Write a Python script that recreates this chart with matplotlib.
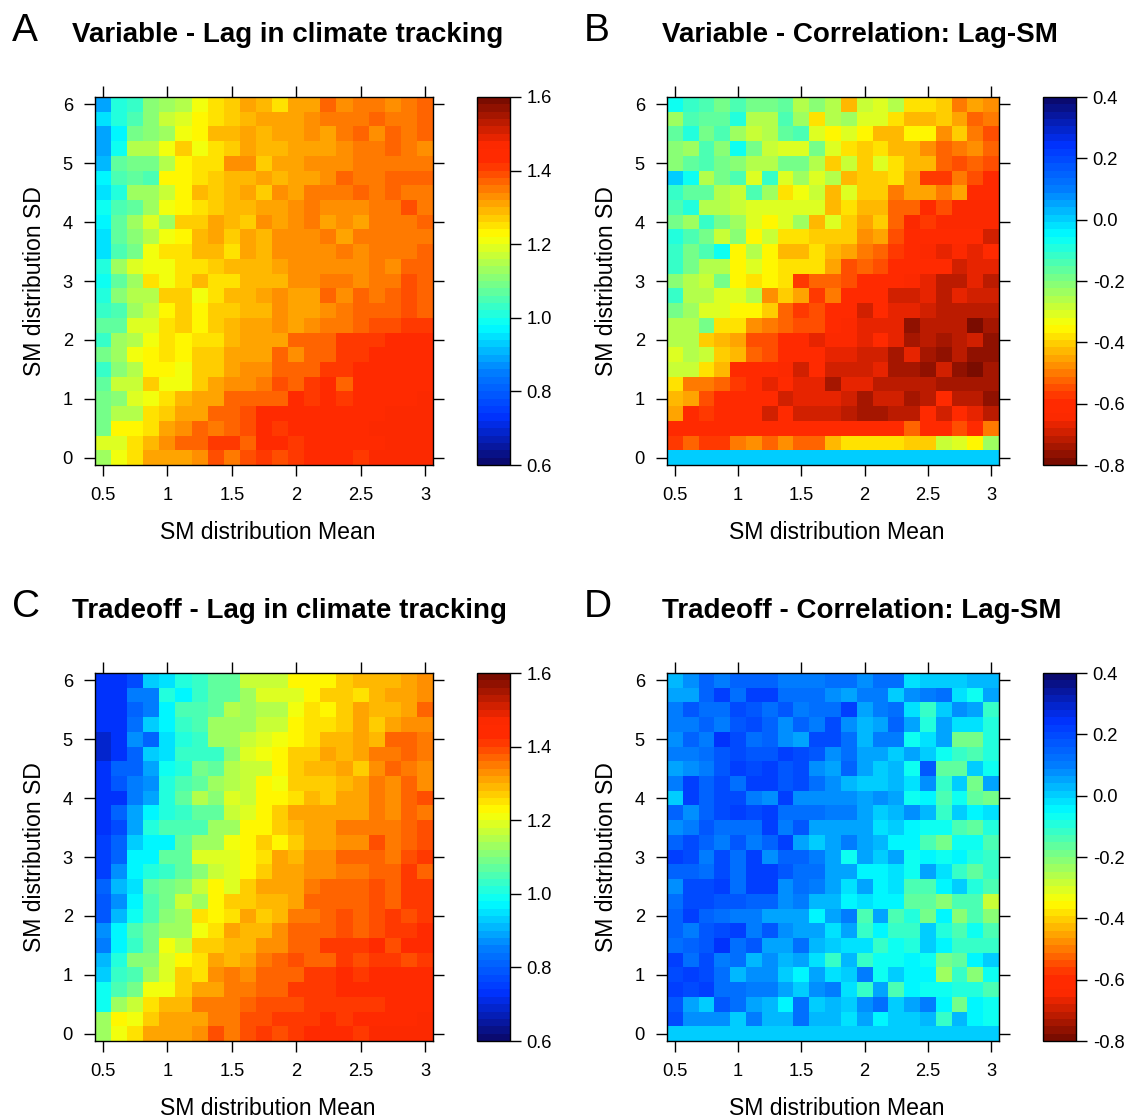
import numpy as np
import matplotlib
matplotlib.use('Agg')
import matplotlib.pyplot as plt
from matplotlib.colors import LinearSegmentedColormap, Normalize

plt.rcParams['font.family'] = ['Liberation Sans', 'DejaVu Sans']

# SM distribution axes
sm_mean = [0.5, 0.625, 0.75, 0.875, 1.0, 1.125, 1.25, 1.375, 1.5, 1.625, 1.75, 1.875, 2.0, 2.125, 2.25, 2.375, 2.5, 2.625, 2.75, 2.875, 3.0]
sm_sd = [6.0, 5.75, 5.5, 5.25, 5.0, 4.75, 4.5, 4.25, 4.0, 3.75, 3.5, 3.25, 3.0, 2.75, 2.5, 2.25, 2.0, 1.75, 1.5, 1.25, 1.0, 0.75, 0.5, 0.25, 0.0]

# rows go from SD=6 (top) to SD=0 (bottom)
lag_variable = [
    [0.89,1.01,1.03,1.11,1.14,1.16,1.20,1.25,1.27,1.30,1.28,1.25,1.31,1.30,1.37,1.33,1.35,1.35,1.32,1.34,1.37],
    [0.95,1.01,1.04,1.11,1.17,1.19,1.225,1.25,1.27,1.29,1.31,1.31,1.31,1.33,1.35,1.35,1.35,1.37,1.34,1.34,1.37],
    [0.89,0.96,1.08,1.11,1.14,1.20,1.225,1.28,1.28,1.30,1.28,1.31,1.31,1.33,1.30,1.35,1.37,1.33,1.37,1.34,1.37],
    [0.89,0.99,1.15,1.15,1.20,1.26,1.20,1.25,1.27,1.30,1.28,1.28,1.31,1.31,1.31,1.33,1.35,1.35,1.37,1.35,1.33],
    [0.90,1.06,1.08,1.08,1.16,1.225,1.25,1.25,1.33,1.33,1.27,1.31,1.31,1.33,1.33,1.33,1.35,1.35,1.35,1.35,1.35],
    [0.975,1.04,1.07,1.05,1.225,1.225,1.25,1.27,1.29,1.29,1.31,1.28,1.31,1.31,1.33,1.37,1.35,1.35,1.37,1.37,1.37],
    [0.95,1.00,1.12,1.12,1.17,1.225,1.29,1.27,1.29,1.31,1.26,1.32,1.31,1.35,1.35,1.35,1.37,1.35,1.37,1.35,1.35],
    [0.99,1.04,1.06,1.13,1.20,1.225,1.25,1.27,1.29,1.29,1.31,1.31,1.33,1.35,1.32,1.32,1.32,1.35,1.35,1.39,1.35],
    [0.975,1.06,1.14,1.19,1.13,1.26,1.26,1.30,1.29,1.26,1.32,1.31,1.33,1.35,1.30,1.32,1.30,1.35,1.35,1.35,1.37],
    [0.95,1.07,1.10,1.16,1.20,1.225,1.29,1.31,1.27,1.30,1.28,1.33,1.33,1.33,1.35,1.31,1.35,1.35,1.35,1.35,1.35],
    [0.95,1.04,1.09,1.20,1.25,1.25,1.29,1.29,1.24,1.30,1.28,1.33,1.33,1.33,1.33,1.35,1.33,1.35,1.35,1.35,1.37],
    [1.01,1.12,1.19,1.20,1.20,1.24,1.24,1.27,1.29,1.29,1.29,1.31,1.33,1.33,1.33,1.33,1.33,1.35,1.33,1.38,1.38],
    [0.99,1.06,1.14,1.25,1.20,1.25,1.29,1.24,1.24,1.28,1.28,1.28,1.33,1.33,1.35,1.35,1.33,1.35,1.35,1.39,1.37],
    [1.01,1.11,1.16,1.16,1.26,1.26,1.20,1.25,1.29,1.29,1.31,1.33,1.31,1.31,1.37,1.32,1.37,1.35,1.37,1.39,1.37],
    [1.03,1.05,1.13,1.18,1.225,1.27,1.225,1.27,1.27,1.28,1.28,1.33,1.31,1.31,1.32,1.35,1.37,1.37,1.37,1.39,1.37],
    [1.06,1.06,1.19,1.19,1.25,1.27,1.225,1.27,1.29,1.30,1.30,1.33,1.31,1.33,1.35,1.35,1.38,1.39,1.39,1.41,1.41],
    [1.03,1.14,1.16,1.20,1.25,1.225,1.24,1.24,1.28,1.30,1.30,1.30,1.36,1.36,1.36,1.41,1.41,1.41,1.42,1.42,1.45],
    [1.08,1.12,1.20,1.225,1.25,1.225,1.27,1.27,1.30,1.30,1.30,1.36,1.33,1.38,1.38,1.41,1.41,1.42,1.45,1.42,1.45],
    [1.03,1.11,1.16,1.225,1.225,1.20,1.27,1.27,1.30,1.32,1.32,1.38,1.38,1.38,1.40,1.40,1.42,1.42,1.45,1.45,1.45],
    [1.07,1.18,1.17,1.27,1.20,1.20,1.27,1.30,1.32,1.32,1.35,1.39,1.38,1.40,1.42,1.38,1.42,1.45,1.45,1.45,1.45],
    [1.09,1.11,1.19,1.20,1.25,1.29,1.30,1.30,1.36,1.37,1.37,1.37,1.45,1.41,1.45,1.41,1.45,1.45,1.45,1.45,1.46],
    [1.09,1.15,1.15,1.25,1.27,1.31,1.31,1.38,1.38,1.39,1.42,1.45,1.45,1.45,1.45,1.45,1.45,1.45,1.46,1.46,1.46],
    [1.09,1.225,1.225,1.25,1.30,1.33,1.37,1.35,1.38,1.39,1.45,1.40,1.45,1.42,1.45,1.45,1.45,1.46,1.46,1.46,1.46],
    [1.19,1.19,1.25,1.29,1.33,1.36,1.36,1.40,1.40,1.38,1.42,1.42,1.40,1.45,1.45,1.42,1.45,1.45,1.46,1.46,1.46],
    [1.13,1.20,1.25,1.30,1.30,1.30,1.32,1.39,1.35,1.39,1.41,1.39,1.41,1.45,1.42,1.45,1.41,1.46,1.46,1.46,1.46],
]

cor_variable = [
    [-0.08,-0.12,-0.15,-0.18,-0.13,-0.19,-0.19,-0.17,-0.27,-0.22,-0.27,-0.42,-0.28,-0.30,-0.27,-0.38,-0.38,-0.40,-0.50,-0.45,-0.47],
    [-0.24,-0.14,-0.16,-0.16,-0.10,-0.25,-0.25,-0.15,-0.24,-0.37,-0.27,-0.24,-0.32,-0.32,-0.38,-0.43,-0.43,-0.40,-0.45,-0.53,-0.50],
    [-0.17,-0.09,-0.19,-0.15,-0.24,-0.28,-0.25,-0.16,-0.14,-0.30,-0.35,-0.32,-0.35,-0.42,-0.42,-0.35,-0.35,-0.48,-0.40,-0.50,-0.55],
    [-0.21,-0.24,-0.15,-0.21,-0.08,-0.20,-0.28,-0.30,-0.30,-0.18,-0.32,-0.38,-0.40,-0.38,-0.44,-0.42,-0.47,-0.52,-0.50,-0.47,-0.53],
    [-0.21,-0.17,-0.13,-0.19,-0.21,-0.26,-0.26,-0.20,-0.20,-0.27,-0.41,-0.29,-0.40,-0.32,-0.37,-0.44,-0.44,-0.52,-0.55,-0.52,-0.55],
    [0.00,-0.06,-0.26,-0.18,-0.15,-0.31,-0.12,-0.31,-0.24,-0.30,-0.27,-0.42,-0.40,-0.41,-0.38,-0.46,-0.57,-0.57,-0.50,-0.55,-0.59],
    [-0.12,-0.16,-0.16,-0.25,-0.28,-0.14,-0.24,-0.39,-0.33,-0.28,-0.44,-0.32,-0.41,-0.41,-0.50,-0.46,-0.46,-0.50,-0.46,-0.63,-0.63],
    [-0.15,-0.10,-0.26,-0.26,-0.28,-0.30,-0.30,-0.30,-0.32,-0.32,-0.42,-0.37,-0.43,-0.43,-0.53,-0.53,-0.60,-0.55,-0.64,-0.64,-0.64],
    [-0.20,-0.23,-0.12,-0.19,-0.24,-0.32,-0.35,-0.32,-0.24,-0.43,-0.32,-0.40,-0.46,-0.41,-0.53,-0.64,-0.56,-0.64,-0.64,-0.64,-0.64],
    [-0.10,-0.15,-0.19,-0.28,-0.21,-0.35,-0.28,-0.38,-0.38,-0.40,-0.41,-0.41,-0.48,-0.46,-0.55,-0.62,-0.62,-0.63,-0.63,-0.63,-0.69],
    [-0.11,-0.19,-0.14,-0.08,-0.35,-0.27,-0.35,-0.42,-0.44,-0.37,-0.42,-0.46,-0.50,-0.53,-0.58,-0.62,-0.64,-0.67,-0.64,-0.67,-0.63],
    [-0.12,-0.18,-0.25,-0.25,-0.35,-0.31,-0.35,-0.37,-0.37,-0.37,-0.46,-0.54,-0.52,-0.55,-0.63,-0.63,-0.63,-0.63,-0.70,-0.67,-0.67],
    [-0.22,-0.26,-0.28,-0.19,-0.35,-0.39,-0.35,-0.37,-0.58,-0.52,-0.52,-0.55,-0.62,-0.62,-0.62,-0.64,-0.67,-0.72,-0.72,-0.67,-0.72],
    [-0.12,-0.25,-0.25,-0.32,-0.32,-0.27,-0.47,-0.41,-0.45,-0.58,-0.50,-0.62,-0.62,-0.62,-0.70,-0.70,-0.67,-0.71,-0.67,-0.70,-0.70],
    [-0.20,-0.24,-0.30,-0.32,-0.35,-0.35,-0.41,-0.52,-0.57,-0.55,-0.63,-0.63,-0.70,-0.63,-0.67,-0.67,-0.70,-0.72,-0.72,-0.72,-0.72],
    [-0.25,-0.25,-0.19,-0.38,-0.38,-0.47,-0.50,-0.53,-0.55,-0.55,-0.63,-0.64,-0.67,-0.67,-0.67,-0.76,-0.72,-0.72,-0.72,-0.79,-0.74],
    [-0.27,-0.27,-0.41,-0.42,-0.46,-0.55,-0.55,-0.63,-0.63,-0.67,-0.64,-0.64,-0.67,-0.63,-0.67,-0.73,-0.72,-0.75,-0.72,-0.69,-0.76],
    [-0.32,-0.25,-0.29,-0.41,-0.44,-0.52,-0.55,-0.63,-0.63,-0.63,-0.67,-0.67,-0.70,-0.70,-0.73,-0.67,-0.73,-0.76,-0.72,-0.76,-0.76],
    [-0.29,-0.29,-0.38,-0.44,-0.59,-0.62,-0.62,-0.64,-0.70,-0.62,-0.68,-0.70,-0.70,-0.67,-0.73,-0.73,-0.76,-0.70,-0.76,-0.79,-0.73],
    [-0.38,-0.49,-0.49,-0.52,-0.58,-0.62,-0.67,-0.63,-0.67,-0.67,-0.73,-0.67,-0.67,-0.72,-0.72,-0.72,-0.72,-0.75,-0.75,-0.75,-0.73],
    [-0.42,-0.46,-0.55,-0.63,-0.63,-0.63,-0.63,-0.70,-0.67,-0.67,-0.67,-0.70,-0.73,-0.70,-0.70,-0.73,-0.71,-0.60,-0.72,-0.72,-0.76],
    [-0.46,-0.61,-0.57,-0.63,-0.63,-0.63,-0.70,-0.63,-0.68,-0.70,-0.68,-0.71,-0.73,-0.73,-0.71,-0.71,-0.62,-0.70,-0.60,-0.67,-0.71],
    [-0.63,-0.63,-0.63,-0.63,-0.63,-0.63,-0.63,-0.63,-0.62,-0.62,-0.61,-0.61,-0.61,-0.62,-0.60,-0.52,-0.60,-0.60,-0.55,-0.62,-0.49],
    [-0.58,-0.53,-0.56,-0.56,-0.49,-0.47,-0.53,-0.48,-0.53,-0.53,-0.42,-0.38,-0.38,-0.38,-0.38,-0.41,-0.41,-0.28,-0.31,-0.35,-0.24],
    [0.0,0.0,0.0,0.0,0.0,0.0,0.0,0.0,0.0,0.0,0.0,0.0,0.0,0.0,0.0,0.0,0.0,0.0,0.0,0.0,0.0],
]

lag_tradeoff = [
    [0.73,0.73,0.76,0.92,0.95,1.00,1.03,1.06,1.07,1.17,1.17,1.17,1.225,1.225,1.225,1.27,1.29,1.29,1.28,1.30,1.33],
    [0.73,0.73,0.85,0.85,1.00,0.975,1.03,1.06,1.06,1.14,1.19,1.19,1.19,1.225,1.27,1.27,1.25,1.29,1.31,1.30,1.33],
    [0.73,0.73,0.82,0.85,0.975,1.05,1.05,1.06,1.15,1.12,1.16,1.16,1.20,1.25,1.225,1.27,1.31,1.29,1.29,1.30,1.37],
    [0.73,0.73,0.83,0.92,0.975,1.02,1.05,1.12,1.12,1.14,1.18,1.18,1.225,1.25,1.25,1.27,1.31,1.27,1.31,1.33,1.33],
    [0.69,0.72,0.86,0.80,0.94,1.00,1.03,1.14,1.14,1.17,1.19,1.20,1.225,1.25,1.29,1.29,1.31,1.28,1.38,1.38,1.35],
    [0.69,0.72,0.81,0.92,0.95,1.02,1.03,1.03,1.10,1.19,1.20,1.225,1.26,1.26,1.30,1.28,1.31,1.35,1.35,1.38,1.35],
    [0.72,0.80,0.81,0.89,0.98,1.00,1.08,1.06,1.15,1.17,1.18,1.225,1.27,1.29,1.29,1.31,1.27,1.33,1.37,1.35,1.33],
    [0.72,0.79,0.85,0.86,1.00,1.05,1.06,1.12,1.15,1.17,1.225,1.20,1.26,1.27,1.27,1.29,1.31,1.35,1.33,1.37,1.33],
    [0.73,0.73,0.85,0.89,1.00,1.07,1.15,1.10,1.19,1.17,1.225,1.225,1.25,1.29,1.27,1.31,1.31,1.35,1.33,1.37,1.39],
    [0.73,0.80,0.89,0.975,1.01,1.03,1.06,1.07,1.17,1.19,1.225,1.26,1.30,1.30,1.31,1.31,1.31,1.35,1.33,1.37,1.35],
    [0.73,0.76,0.89,1.00,1.05,1.05,1.05,1.13,1.13,1.225,1.225,1.27,1.29,1.31,1.31,1.35,1.35,1.35,1.35,1.37,1.39],
    [0.74,0.80,0.93,0.975,0.96,1.07,1.14,1.14,1.20,1.225,1.26,1.225,1.27,1.31,1.31,1.33,1.33,1.39,1.34,1.37,1.39],
    [0.75,0.82,0.975,0.975,1.06,1.07,1.19,1.19,1.19,1.225,1.25,1.31,1.28,1.33,1.33,1.36,1.37,1.37,1.35,1.39,1.41],
    [0.74,0.87,0.975,1.00,1.02,1.06,1.11,1.17,1.19,1.225,1.27,1.30,1.30,1.33,1.33,1.34,1.34,1.37,1.37,1.40,1.38],
    [0.80,0.91,0.95,1.06,1.09,1.11,1.17,1.225,1.19,1.27,1.30,1.30,1.30,1.34,1.36,1.36,1.38,1.39,1.37,1.40,1.40],
    [0.79,0.87,0.975,1.04,1.08,1.18,1.14,1.225,1.27,1.27,1.28,1.28,1.30,1.36,1.36,1.36,1.38,1.39,1.37,1.40,1.40],
    [0.79,0.91,0.99,1.05,1.11,1.12,1.25,1.225,1.25,1.30,1.26,1.28,1.34,1.34,1.36,1.39,1.37,1.39,1.41,1.39,1.41],
    [0.86,0.96,1.05,1.08,1.12,1.13,1.20,1.25,1.30,1.28,1.28,1.33,1.36,1.38,1.38,1.39,1.37,1.39,1.41,1.41,1.45],
    [0.84,0.975,1.02,1.08,1.21,1.17,1.27,1.27,1.28,1.28,1.33,1.33,1.38,1.38,1.40,1.40,1.40,1.45,1.39,1.45,1.45],
    [0.91,1.01,1.10,1.10,1.19,1.225,1.25,1.30,1.28,1.30,1.35,1.37,1.39,1.37,1.37,1.41,1.39,1.41,1.41,1.39,1.41],
    [0.92,1.02,1.05,1.14,1.19,1.27,1.25,1.32,1.35,1.32,1.38,1.38,1.38,1.40,1.40,1.42,1.40,1.42,1.42,1.45,1.45],
    [0.99,1.05,1.09,1.20,1.20,1.26,1.31,1.31,1.35,1.35,1.38,1.38,1.40,1.40,1.40,1.42,1.42,1.42,1.42,1.45,1.45],
    [0.99,1.14,1.18,1.25,1.29,1.29,1.35,1.35,1.35,1.37,1.39,1.39,1.39,1.41,1.41,1.41,1.41,1.41,1.45,1.45,1.45],
    [1.13,1.225,1.20,1.27,1.31,1.31,1.31,1.35,1.35,1.39,1.39,1.41,1.41,1.41,1.45,1.41,1.45,1.45,1.45,1.45,1.46],
    [1.13,1.20,1.25,1.31,1.31,1.31,1.33,1.39,1.35,1.39,1.41,1.39,1.41,1.45,1.42,1.45,1.41,1.46,1.46,1.46,1.46],
]

cor_tradeoff = [
    [0.03,0.08,0.14,0.11,0.15,0.14,0.14,0.09,0.09,0.11,0.13,0.13,0.07,0.13,0.13,-0.03,0.00,0.00,0.00,0.03,0.03],
    [0.06,0.06,0.14,0.21,0.12,0.21,0.21,0.13,0.13,0.13,0.08,0.06,0.11,0.11,0.00,0.07,0.09,0.13,-0.03,-0.06,0.04],
    [0.11,0.17,0.13,0.13,0.19,0.16,0.13,0.16,0.10,0.13,0.13,0.21,0.04,0.09,0.12,-0.03,-0.11,0.01,0.07,0.05,-0.12],
    [0.10,0.10,0.15,0.10,0.18,0.20,0.14,0.07,0.15,0.10,0.19,0.07,0.03,0.06,0.14,0.04,-0.09,0.06,-0.03,-0.03,-0.09],
    [0.07,0.15,0.09,0.24,0.20,0.12,0.15,0.07,0.05,0.20,0.20,0.13,0.03,0.09,0.09,-0.08,-0.02,0.04,-0.20,-0.18,-0.09],
    [0.10,0.10,0.13,0.17,0.20,0.17,0.17,0.21,0.20,0.17,0.07,0.12,0.06,0.04,0.01,0.04,0.01,-0.08,-0.11,-0.13,-0.10],
    [0.06,0.07,0.10,0.17,0.21,0.20,0.22,0.16,0.20,0.08,0.06,0.14,0.05,0.00,0.03,-0.08,0.16,-0.17,-0.17,0.00,-0.08],
    [0.10,0.22,0.15,0.20,0.12,0.22,0.22,0.16,0.20,0.13,0.07,0.03,0.00,0.00,0.03,-0.03,0.07,-0.12,0.00,-0.19,0.05],
    [0.01,0.22,0.15,0.20,0.20,0.10,0.07,0.22,0.08,0.08,0.08,0.08,0.04,0.07,0.04,-0.08,-0.05,-0.13,-0.07,-0.16,-0.20],
    [0.15,0.07,0.14,0.20,0.21,0.20,0.22,0.13,0.13,0.13,0.11,0.10,0.04,0.01,0.03,0.08,0.02,-0.12,0.00,-0.05,-0.02],
    [0.08,0.10,0.17,0.12,0.12,0.12,0.21,0.11,0.18,0.06,0.06,0.04,0.04,-0.03,0.00,-0.05,-0.08,-0.08,-0.14,-0.17,-0.10],
    [0.15,0.20,0.14,0.11,0.18,0.11,0.15,0.22,0.05,0.00,0.05,0.11,0.05,0.02,-0.05,-0.05,-0.14,-0.19,-0.08,-0.08,-0.14],
    [0.22,0.20,0.11,0.20,0.12,0.22,0.08,0.15,0.15,0.09,0.06,-0.08,0.04,0.01,0.06,-0.08,-0.05,-0.07,-0.05,-0.10,-0.12],
    [0.15,0.15,0.12,0.20,0.12,0.21,0.22,0.17,0.12,0.12,0.06,0.04,-0.05,-0.05,-0.03,-0.08,0.05,-0.01,-0.12,-0.16,-0.11],
    [0.08,0.20,0.20,0.22,0.12,0.22,0.22,0.08,0.13,0.09,0.06,-0.02,0.05,-0.05,-0.02,-0.14,-0.14,-0.05,0.00,-0.10,-0.13],
    [0.13,0.20,0.20,0.16,0.16,0.15,0.15,0.08,0.11,0.03,0.03,-0.05,-0.02,-0.05,-0.05,-0.16,-0.16,-0.22,-0.15,-0.15,-0.28],
    [0.14,0.21,0.15,0.13,0.11,0.09,0.05,0.05,0.05,-0.05,0.04,0.09,-0.14,0.04,-0.15,-0.10,-0.18,-0.05,-0.22,-0.14,-0.22],
    [0.15,0.10,0.16,0.20,0.22,0.11,0.17,0.08,0.06,0.06,-0.02,0.04,-0.12,-0.05,-0.11,-0.12,0.00,-0.10,-0.13,-0.07,-0.13],
    [0.12,0.15,0.18,0.24,0.13,0.17,0.06,0.06,0.13,0.03,0.01,-0.03,-0.03,-0.11,-0.08,-0.10,0.00,-0.05,-0.12,-0.12,-0.12],
    [0.21,0.12,0.20,0.10,0.13,0.03,0.08,0.03,0.06,-0.02,-0.12,0.03,-0.12,-0.08,-0.08,-0.05,-0.08,-0.20,-0.16,-0.05,0.00],
    [0.20,0.22,0.20,0.13,0.03,0.08,0.08,0.01,-0.05,0.04,-0.03,0.01,0.09,-0.08,0.01,-0.05,-0.05,-0.23,-0.12,-0.22,-0.08],
    [0.22,0.20,0.22,0.12,0.12,0.09,0.09,0.05,0.00,0.07,0.10,-0.03,-0.12,0.04,-0.13,-0.05,-0.08,-0.08,-0.10,-0.10,-0.15],
    [0.16,0.05,0.01,0.16,0.12,0.06,0.03,-0.05,0.13,0.00,0.03,0.01,0.07,0.13,0.00,0.04,0.09,-0.05,-0.18,-0.05,-0.08],
    [0.19,0.07,0.07,0.07,0.00,0.11,0.02,0.02,0.12,0.03,0.03,-0.03,0.04,-0.05,0.00,0.00,0.03,-0.12,0.03,-0.05,-0.08],
    [0.0,0.0,0.0,0.0,0.0,0.0,0.0,0.0,0.0,0.0,0.0,0.0,0.0,0.0,0.0,0.0,0.0,0.0,0.0,0.0,0.0],
]

x_ticks = [0.5, 1, 1.5, 2, 2.5, 3]
x_ticklabels = ['0.5', '1', '1.5', '2', '2.5', '3']
y_ticks = [0, 1, 2, 3, 4, 5, 6]
lag_ticks = [0.6, 0.8, 1.0, 1.2, 1.4, 1.6]
cor_ticks = [-0.8, -0.6, -0.4, -0.2, 0.0, 0.2, 0.4]

W, H = 1141, 1120
# jet, with blue and red shifted the way they look in the reference
jet_stops = [(0.0, '#0A0A70'), (0.125, '#0033FF'), (0.25, '#007FFF'), (0.375, '#00FFFF'), (0.5, '#7FFF7F'),
             (0.625, '#FFFF00'), (0.75, '#FF7F00'), (0.83, '#FF2A00'), (0.875, '#FF2A00'), (1.0, '#7A0C00')]
jet = LinearSegmentedColormap.from_list('jet50', jet_stops, N=50)
jet_r = jet.reversed()

def box(x0, y0, x1, y1):
    # pixel box to figure fraction
    return [x0 / W, 1 - y1 / H, (x1 - x0) / W, (y1 - y0) / H]

def panel(x0, x1, y0, cb_x, values, cmap, vmin, vmax, cticks, title, letter, title_x, letter_x):
    ax = fig.add_axes(box(x0, y0, x1, y0 + 368))
    mesh = ax.pcolormesh(sm_mean, sm_sd, np.array(values), cmap=cmap,
                         norm=Normalize(vmin, vmax), shading='nearest')
    ax.set_xticks(x_ticks)
    ax.set_xticklabels(x_ticklabels)
    ax.set_yticks(y_ticks)
    ax.tick_params(axis='both', direction='out', length=8, width=1, labelsize=13.2,
                   top=True, right=True, pad=8)
    ax.set_xlabel('SM distribution Mean', fontsize=16.6, labelpad=12, x=0.51)
    ax.set_ylabel('SM distribution SD', fontsize=16.6, labelpad=12)
    for s in ax.spines.values():
        s.set_linewidth(1)
    cax = fig.add_axes(box(cb_x, y0, cb_x + 33, y0 + 368))
    cb = fig.colorbar(mesh, cax=cax)
    cb.set_ticks(cticks)
    cb.ax.set_yticklabels(['%.1f' % t for t in cticks])
    cb.ax.tick_params(direction='out', length=8, width=1, labelsize=13.2, pad=4)
    cb.outline.set_linewidth(1)
    fig.text(title_x / W, 1 - (y0 - 65) / H, title, fontsize=20, fontweight='bold', va='center_baseline')
    fig.text(letter_x / W, 1 - (y0 - 70) / H, letter, fontsize=28, va='center_baseline')

fig = plt.figure(figsize=(W / 100, H / 100), dpi=100)

panel(95, 433, 97, 477, lag_variable, jet, 0.6, 1.6, lag_ticks, 'Variable - Lag in climate tracking', 'A', 72, 12)
panel(667, 999, 97, 1043, cor_variable, jet_r, -0.8, 0.4, cor_ticks, 'Variable - Correlation: Lag-SM', 'B', 662, 584)
panel(95, 433, 673, 477, lag_tradeoff, jet, 0.6, 1.6, lag_ticks, 'Tradeoff - Lag in climate tracking', 'C', 72, 12)
panel(667, 999, 673, 1043, cor_tradeoff, jet_r, -0.8, 0.4, cor_ticks, 'Tradeoff - Correlation: Lag-SM', 'D', 662, 584)

fig.savefig('out.png', dpi=100)
